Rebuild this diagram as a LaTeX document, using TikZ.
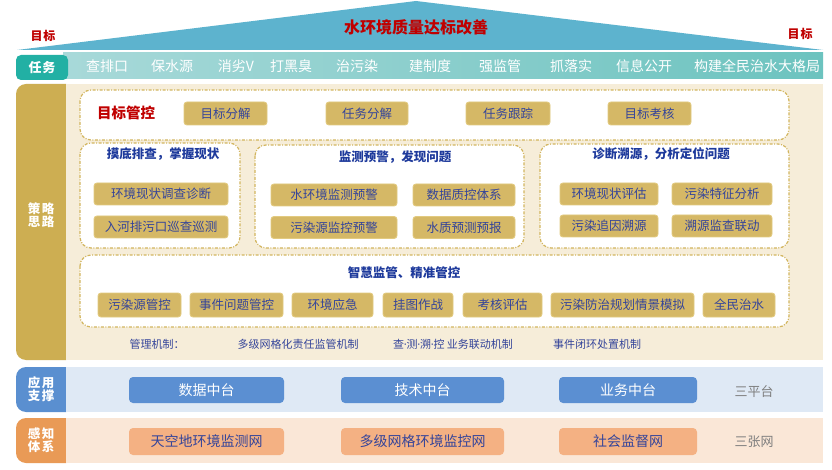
\documentclass[tikz,border=0pt]{standalone}
\usepackage{fontspec}
\setmainfont{Noto Sans CJK SC}
\newfontfamily\dotf{DejaVu Sans}
\newcommand{\myfs}[1]{\fontsize{#1}{#1}\selectfont}
\newcommand{\mdot}{{\dotf\kern-0.5pt·\kern-0.5pt}}
\definecolor{tri}{HTML}{5DB3CE}
\definecolor{tasklab}{HTML}{22B0A4}
\definecolor{stripL}{HTML}{A8D9D9}
\definecolor{stripR}{HTML}{6CC3BF}
\definecolor{goldlab}{HTML}{CDAE52}
\definecolor{beige}{HTML}{F6EDD9}
\definecolor{dashc}{HTML}{D2B55E}
\definecolor{goldfill}{HTML}{D5B866}
\definecolor{goldedge}{HTML}{E2CA80}
\definecolor{btntext}{HTML}{34449A}
\definecolor{titleblue}{HTML}{1E3A9C}
\definecolor{redt}{HTML}{C00000}
\definecolor{bluelab}{HTML}{5A8FD0}
\definecolor{bluebg}{HTML}{DFE9F5}
\definecolor{bluebtn}{HTML}{5B8FD2}
\definecolor{orlab}{HTML}{E99A56}
\definecolor{orbg}{HTML}{FAE7D7}
\definecolor{orbtn}{HTML}{F4B183}
\definecolor{grayt}{HTML}{7F7F7F}
\begin{document}
\begin{tikzpicture}[x=1pt,y=-1pt,
  gbtn/.style={draw=goldedge, line width=0.9pt, fill=goldfill, rounded corners=3pt,
    text=btntext, font=\myfs{12.5}, inner sep=0pt, minimum height=22pt},
  dbox/.style={draw=dashc, line width=1.2pt, fill=white, rounded corners=11pt,
    dash pattern=on 3pt off 1.5pt on 1pt off 1.5pt},
  btitle/.style={text=titleblue, font=\myfs{12.5}\bfseries, inner sep=0pt},
  tasktxt/.style={text=white, font=\myfs{14}, inner sep=0pt},
  labtxt/.style={text=white, font=\myfs{12.5}\bfseries, inner sep=0pt, align=center},
  mech/.style={text=btntext, font=\myfs{11}, inner sep=0pt},
  abtn/.style={fill=bluebtn, rounded corners=4pt, text=white, font=\myfs{14}, inner sep=0pt, minimum height=26pt},
  pbtn/.style={fill=orbtn, rounded corners=4pt, text=btntext, font=\myfs{14}, inner sep=0pt, minimum height=27pt},
  side/.style={text=grayt, font=\myfs{13}, inner sep=0pt}
]
\useasboundingbox (0,0) rectangle (832,470);
\fill[white] (0,0) rectangle (832,470);

% goal triangle
\fill[tri] (17,50) -- (416,1) -- (823,50) -- cycle;
\node[text=redt, font=\myfs{16}\bfseries, inner sep=0pt] (goal) at (416,27) {水环境质量达标改善};
\node[text=redt, font=\myfs{12}\bfseries, inner sep=0pt] (goalL) at (43,36) {目\kern1pt标};
\node[text=redt, font=\myfs{12}\bfseries, inner sep=0pt] (goalR) at (800,34) {目\kern1pt标};

% task row
\shade[left color=stripL, right color=stripR] (63,53) rectangle (823,79);
\fill[tasklab, rounded corners=5pt] (16,55) rectangle (68,80);
\node[labtxt, font=\myfs{13}\bfseries] (tasklabel) at (42,68) {任\kern1pt务};
\node[tasktxt] (k1) at (107,66) {查排口};
\node[tasktxt] (k2) at (172,66) {保水源};
\node[tasktxt] (k3) at (236,66) {消劣V};
\node[tasktxt] (k4) at (291,66) {打黑臭};
\node[tasktxt] (k5) at (357,66) {治污染};
\node[tasktxt] (k6) at (430,66) {建制度};
\node[tasktxt] (k7) at (500,66) {强监管};
\node[tasktxt] (k8) at (571,66) {抓落实};
\node[tasktxt] (k9) at (644,66) {信息公开};
\node[tasktxt] (k10) at (757,66) {构建全民治水大格局};

% strategy section
\fill[goldlab, rounded corners=10pt] (16,84) rectangle (76,360);
\fill[beige] (66,84) rectangle (823,360);
\node[labtxt] (stratlabel) at (41,215) {策\kern1.5pt略\\[1pt]思\kern1.5pt路};

% target control box
\draw[dbox] (80,90) rectangle (789,140);
\node[text=redt, font=\myfs{14.5}\bfseries, inner sep=0pt] (tc) at (126,113) {目标管控};
\node[gbtn, minimum width=83pt, minimum height=23pt] (tb1) at (225.5,113.5) {目标分解};
\node[gbtn, minimum width=82pt, minimum height=23pt] (tb2) at (367,113.5) {任务分解};
\node[gbtn, minimum width=84pt, minimum height=23pt] (tb3) at (508,113.5) {任务跟踪};
\node[gbtn, minimum width=83pt, minimum height=23pt] (tb4) at (649.5,113.5) {目标考核};

% box 1
\draw[dbox] (80,143) rectangle (240,248);
\node[btitle] (t1) at (163,154) {摸底排查，掌握现状};
\node[gbtn, minimum width=134pt] (b11) at (161,194) {环境现状调查诊断};
\node[gbtn, minimum width=134pt] (b12) at (161,227) {入河排污口巡查巡测};

% box 2
\draw[dbox] (255,145) rectangle (524,248);
\node[btitle] (t2) at (395,157) {监测预警，发现问题};
\node[gbtn, minimum width=126pt] (b21) at (334,195) {水环境监测预警};
\node[gbtn, minimum width=102pt] (b22) at (464,195) {数据质控体系};
\node[gbtn, minimum width=126pt] (b23) at (334,227.5) {污染源监控预警};
\node[gbtn, minimum width=102pt] (b24) at (464,227.5) {水质预测预报};

% box 3
\draw[dbox] (540,144) rectangle (789,248);
\node[btitle] (t3) at (661,154) {诊断溯源，分析定位问题};
\node[gbtn, minimum width=98pt] (b31) at (609,194) {环境现状评估};
\node[gbtn, minimum width=100pt] (b32) at (722,194) {污染特征分析};
\node[gbtn, minimum width=98pt] (b33) at (609,226) {污染追因溯源};
\node[gbtn, minimum width=100pt] (b34) at (722,226) {溯源监查联动};

% box 4
\draw[dbox] (80,255) rectangle (789,327);
\node[btitle] (t4) at (404,273) {智慧监管、精准管控};
\node[gbtn, minimum width=83pt, minimum height=24pt] (c41) at (139.5,305) {污染源管控};
\node[gbtn, minimum width=93pt, minimum height=24pt] (c42) at (236.5,305) {事件问题管控};
\node[gbtn, minimum width=81pt, minimum height=24pt] (c43) at (332.5,305) {环境应急};
\node[gbtn, minimum width=70pt, minimum height=24pt] (c44) at (418,305) {挂图作战};
\node[gbtn, minimum width=79pt, minimum height=24pt] (c45) at (502.5,305) {考核评估};
\node[gbtn, minimum width=143pt, minimum height=24pt] (c46) at (622.5,305) {污染防治规划情景模拟};
\node[gbtn, minimum width=72pt, minimum height=24pt] (c47) at (739,305) {全民治水};

% mechanisms
\node[mech] (m0) at (157,344) {管理机制：};
\node[mech] (m1) at (298,344) {多级网格化责任监管机制};
\node[mech] (m2) at (453,344) {查\mdot 测\mdot 溯\mdot 控 业务联动机制};
\node[mech] (m3) at (597,344) {事件闭环处置机制};

% application support
\fill[bluelab, rounded corners=10pt] (16,367) rectangle (76,412);
\fill[bluebg] (66,367) rectangle (823,412);
\node[labtxt] (applabel) at (41,389) {应\kern1.5pt用\\[1pt]支\kern1.5pt撑};
\node[abtn, minimum width=155pt] (a1) at (206.5,390) {数据中台};
\node[abtn, minimum width=163pt] (a2) at (422.5,390) {技术中台};
\node[abtn, minimum width=138pt] (a3) at (628,390) {业务中台};
\node[side] (s1) at (754,392) {三平台};

% perception system
\fill[orlab, rounded corners=10pt] (16,418) rectangle (76,463);
\fill[orbg] (66,418) rectangle (823,463);
\node[labtxt] (perlabel) at (41,440) {感\kern1.5pt知\\[1pt]体\kern1.5pt系};
\node[pbtn, minimum width=155pt] (p1) at (206.5,441.5) {天空地环境监测网};
\node[pbtn, minimum width=163pt] (p2) at (422.5,441.5) {多级网格环境监控网};
\node[pbtn, minimum width=138pt] (p3) at (628,441.5) {社会监督网};
\node[side] (s2) at (754,442) {三张网};
\end{tikzpicture}
\end{document}
